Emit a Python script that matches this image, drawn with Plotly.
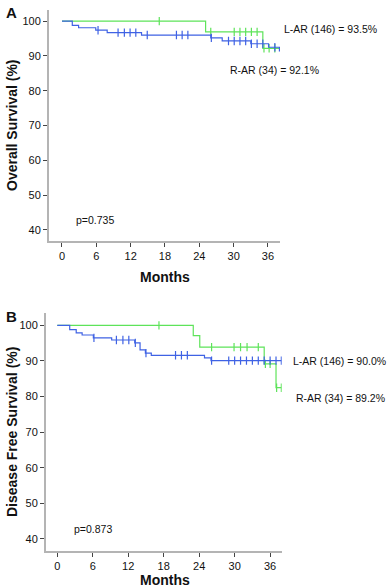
import numpy as np
import plotly.graph_objects as go

# ---------------- data ----------------
month_ticks = [0, 6, 12, 18, 24, 30, 36]
pct_ticks = [40, 50, 60, 70, 80, 90, 100]

# Panel A: Overall survival
a_rar_t = [0, 25.1, 35.1, 38.1]
a_rar_s = [100, 96.9, 92.2, 92.2]
a_rar_cens = [17.0, 26.0, 30.1, 31.1, 32.1, 33.1, 34.1, 35.3, 36.2, 37.2]

a_lar_t = [0, 1.8, 2.9, 5.9, 7.9, 13.9, 26.0, 28.0, 33.0, 36.1, 38.0]
a_lar_s = [100, 98.8, 98.1, 97.4, 96.7, 96.0, 95.2, 94.3, 93.5, 92.5, 91.3]
a_lar_cens = [6.3, 9.8, 10.9, 11.9, 12.9, 14.9, 20.0, 21.0, 22.0, 26.1, 29.1,
              30.1, 31.1, 32.1, 33.1, 34.1, 35.1, 37.2]

# Panel B: Disease free survival
b_rar_t = [0, 23.0, 24.1, 35.0, 37.0, 37.9]
b_rar_s = [100, 97.1, 93.9, 89.2, 82.5, 82.5]
b_rar_cens = [17.2, 26.1, 29.9, 31.0, 32.1, 34.0, 35.2, 36.0, 37.1, 37.9]

b_lar_t = [0, 2.1, 3.2, 4.2, 6.1, 9.2, 13.1, 14.0, 14.9, 15.9, 24.9, 26.0, 37.9]
b_lar_s = [100, 98.8, 97.9, 97.3, 96.5, 95.9, 95.1, 93.1, 92.2, 91.6, 90.9, 90.1, 90.1]
b_lar_cens = [6.2, 10.0, 11.1, 12.1, 13.2, 15.0, 20.0, 21.0, 22.0, 26.1, 29.0,
              30.0, 31.0, 32.0, 33.0, 34.0, 35.0, 36.0, 37.0, 37.9]

GREEN = "#5ee35a"
BLUE = "#3f62e4"
AXIS_GRAY = "#b4b4b4"
FONT = "Liberation Sans, Arial, sans-serif"

W, H = 388, 587


def step_at(times, surv, t):
    idx = np.searchsorted(np.array(times), np.array(t), side="right") - 1
    return list(np.array(surv)[idx])


fig = go.Figure()


def add_curve(t, s, cens, color, xa, ya):
    fig.add_trace(go.Scatter(x=t, y=s, mode="lines", line=dict(color=color, width=1.2, shape="hv"),
                             xaxis=xa, yaxis=ya, showlegend=False, hoverinfo="skip"))
    fig.add_trace(go.Scatter(x=cens, y=step_at(t, s, cens), mode="markers",
                             marker=dict(symbol="line-ns", size=6, line=dict(color=color, width=1.2)),
                             xaxis=xa, yaxis=ya, showlegend=False, hoverinfo="skip"))


# green drawn first, blue on top
add_curve(a_rar_t, a_rar_s, a_rar_cens, GREEN, "x", "y")
add_curve(a_lar_t, a_lar_s, a_lar_cens, BLUE, "x", "y")
add_curve(b_rar_t, b_rar_s, b_rar_cens, GREEN, "x2", "y2")
add_curve(b_lar_t, b_lar_s, b_lar_cens, BLUE, "x2", "y2")


def px_x(p):
    return p / W


def px_y(p):
    return 1 - p / H


axis_common = dict(showgrid=False, zeroline=False, showline=True, linecolor=AXIS_GRAY, linewidth=2,
                   ticks="outside", ticklen=4, tickwidth=1, tickcolor="#444",
                   tickfont=dict(family=FONT, size=11, color="#111"), fixedrange=True)

fig.update_layout(
    width=W, height=H, margin=dict(l=0, r=0, t=0, b=0),
    paper_bgcolor="white", plot_bgcolor="white",
    xaxis=dict(domain=[px_x(49), px_x(280)], range=[-2.27, 38.1], tickvals=month_ticks,
               anchor="y", **axis_common),
    yaxis=dict(domain=[px_y(240.7), px_y(10)], range=[36.9, 103.2], tickvals=pct_ticks,
               anchor="x", **axis_common),
    xaxis2=dict(domain=[px_x(46), px_x(281.7)], range=[-1.91, 37.96], tickvals=month_ticks,
                anchor="y2", **axis_common),
    yaxis2=dict(domain=[px_y(550.7), px_y(313.3)], range=[36.7, 103.4], tickvals=pct_ticks,
                anchor="x2", **axis_common),
)

anns = []


def txt(x, y, text, size=10.5, bold=False, angle=0, xanchor="left"):
    t = f"<b>{text}</b>" if bold else text
    anns.append(dict(x=px_x(x), y=px_y(y), xref="paper", yref="paper", text=t, showarrow=False,
                     xanchor=xanchor, yanchor="middle", textangle=angle,
                     font=dict(family=FONT, size=size, color="#111")))


# Panel A
txt(3.5, 12, "A", size=15, bold=True)
txt(281.5, 29, "L-AR (146) = 93.5%")
txt(227.5, 70, "R-AR (34) = 92.1%")
txt(73.5, 220, "p=0.735")
txt(165, 277, "Months", size=14, bold=True, xanchor="center")
txt(12, 125, "Overall Survival (%)", size=14, bold=True, angle=-90, xanchor="center")

# Panel B
txt(3.5, 316, "B", size=15, bold=True)
txt(290.5, 360.7, "L-AR (146) = 90.0%")
txt(294, 397.7, "R-AR (34) = 89.2%")
txt(71.5, 529.3, "p=0.873")
txt(165, 580, "Months", size=14, bold=True, xanchor="center")
txt(12, 432, "Disease Free Survival (%)", size=14, bold=True, angle=-90, xanchor="center")

fig.update_layout(annotations=anns)

fig.write_html(
    "out.html",
    config={"displayModeBar": False, "staticPlot": True},
    post_script="document.body.style.margin='0';document.body.style.overflow='hidden';"
                "document.documentElement.style.overflow='hidden';",
)
